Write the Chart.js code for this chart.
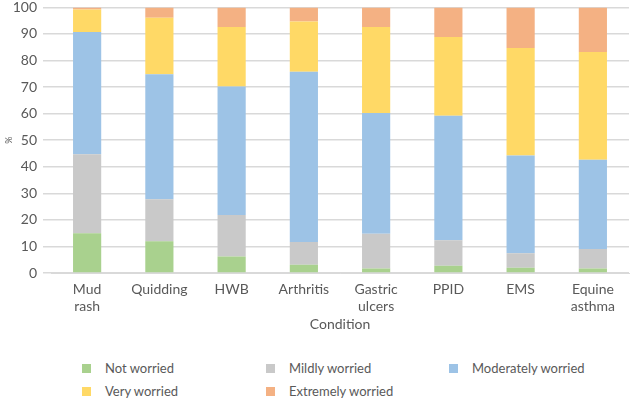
<!DOCTYPE html>
<html>
<head>
<meta charset="utf-8">
<script src="https://cdn.jsdelivr.net/npm/chart.js@4"></script>
<style>
  body { margin: 0; background: #fff; overflow: hidden; }
  #wrap { position: relative; width: 630px; height: 400px; overflow: hidden; }
  #box { position: absolute; left: 0; top: -7px; width: 630px; height: 342px; }
  #legend { position: absolute; left: 0; top: 359px; width: 630px; font-family: Lato, sans-serif; font-size: 13px; color: #595959; }
  .item { position: absolute; height: 19px; line-height: 19px; white-space: nowrap; }
  .item span.sw { position: absolute; left: 0; top: 5px; width: 9px; height: 9px; }
  .item span.tx { position: absolute; left: 23px; top: 0; }
</style>
</head>
<body>
<div id="wrap">
  <div id="box"><canvas id="worryChart"></canvas></div>
  <div id="legend"></div>
</div>
<script>
const conditions = [["Mud", "rash"], "Quidding", "HWB", "Arthritis", ["Gastric", "ulcers"], "PPID", "EMS", ["Equine", "asthma"]];
const seriesNames = ["Not worried", "Mildly worried", "Moderately worried", "Very worried", "Extremely worried"];
const seriesColors = ["#a9d18e", "#c9c9c9", "#9dc3e6", "#ffd966", "#f4b183"];
const notWorried = [15.0, 12.0, 6.2, 3.1, 1.7, 2.7, 2.0, 1.7];
const mildlyWorried = [29.7, 15.8, 15.6, 8.6, 13.1, 9.6, 5.4, 7.3];
const moderatelyWorried = [46.0, 47.0, 48.4, 64.1, 45.4, 46.9, 36.8, 33.6];
const veryWorried = [8.5, 21.3, 22.4, 18.9, 32.4, 29.7, 40.5, 40.6];
const extremelyWorried = [0.8, 3.9, 7.4, 5.3, 7.4, 11.1, 15.3, 16.8];
const allSeries = [notWorried, mildlyWorried, moderatelyWorried, veryWorried, extremelyWorried];

const tickColor = "#595959";
const fontFam = "Lato, sans-serif";

new Chart(document.getElementById('worryChart'), {
  type: 'bar',
  data: {
    labels: conditions,
    datasets: allSeries.map(function(vals, i) {
      return {
        label: seriesNames[i],
        data: vals,
        backgroundColor: seriesColors[i],
        borderWidth: 0,
        barPercentage: 0.78,
        categoryPercentage: 0.5
      };
    })
  },
  options: {
    responsive: true,
    maintainAspectRatio: false,
    animation: false,
    layout: { padding: { top: 1, right: 1, left: 4 } },
    plugins: {
      legend: { display: false },
      tooltip: { enabled: false }
    },
    scales: {
      x: {
        stacked: true,
        grid: { display: false },
        border: { color: "#d9d9d9" },
        ticks: { color: tickColor, font: { family: fontFam, size: 14, lineHeight: 1.2 }, maxRotation: 0, padding: 0 },
        title: { display: true, text: "Condition", color: tickColor, font: { family: fontFam, size: 14 }, padding: { top: 4, bottom: 2 } },
        afterFit: function(scale) { scale.height = 62; }
      },
      y: {
        stacked: true,
        min: 0,
        max: 100,
        ticks: { stepSize: 10, color: tickColor, font: { family: fontFam, size: 14 }, padding: 6 },
        grid: { color: "#d9d9d9", tickLength: 8, lineWidth: 1.5 },
        border: { display: false },
        title: { display: true, text: "%", color: tickColor, font: { family: fontFam, size: 9 }, padding: 0 },
        afterFit: function(scale) { scale.width = 47; }
      }
    }
  }
});

// legend in three columns, like the original
const legendEl = document.getElementById('legend');
const colX = [82, 266, 449];
seriesNames.forEach(function(name, i) {
  const it = document.createElement('div');
  it.className = 'item';
  it.style.left = colX[i % 3] + 'px';
  it.style.top = (Math.floor(i / 3) * 23) + 'px';
  const sw = document.createElement('span');
  sw.className = 'sw';
  sw.style.background = seriesColors[i];
  const tx = document.createElement('span');
  tx.className = 'tx';
  tx.textContent = name;
  it.appendChild(sw);
  it.appendChild(tx);
  legendEl.appendChild(it);
});
</script>
</body>
</html>
